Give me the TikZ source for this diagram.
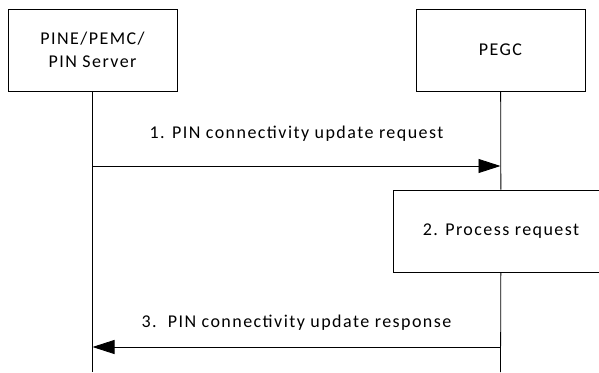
\documentclass[tikz,border=0pt]{standalone}
\usepackage{fontspec}
\setmainfont[LetterSpace=8]{Carlito}
\usetikzlibrary{arrows.meta}
\tikzset{
  entity/.style={draw,line width=0.8pt,align=center,inner sep=0pt,
    minimum width=169pt,minimum height=82pt},
  msg/.style={line width=0.8pt,-{Triangle[length=22pt,width=14pt]}},
  life/.style={line width=0.8pt},
  msglabel/.style={anchor=base,inner sep=0pt}
}
\begin{document}
\begin{tikzpicture}[x=1pt,y=-1pt,font=\fontsize{18}{23.5}\selectfont]
\useasboundingbox (0,0) rectangle (599,372);

\node[entity] (pine) at (92.5,50) {PINE/PEMC/\\PIN Server};
\node[entity] (pegc) at (500.5,50) {PEGC};
\node[entity,minimum width=216pt] (proc) at (501,231) {2. Process request};

\coordinate (pineend) at (92.5,372);
\coordinate (pegcend) at (500.5,372);
\coordinate (req) at (92.5,166);
\coordinate (reqend) at (500.5,166);
\coordinate (resp) at (500.5,347);
\coordinate (respend) at (92.5,347);

\draw[life] (pine) -- (pineend);
\draw[life] (pegc) -- (proc);
\draw[life] (proc) -- (pegcend);

\draw[msg] (req) -- node[msglabel,yshift=28pt] (reqlabel) {1. PIN connectivity update request} (reqend);
\draw[msg] (resp) -- node[msglabel,yshift=20pt] (resplabel) {3.~~PIN connectivity update response} (respend);
\end{tikzpicture}
\end{document}
